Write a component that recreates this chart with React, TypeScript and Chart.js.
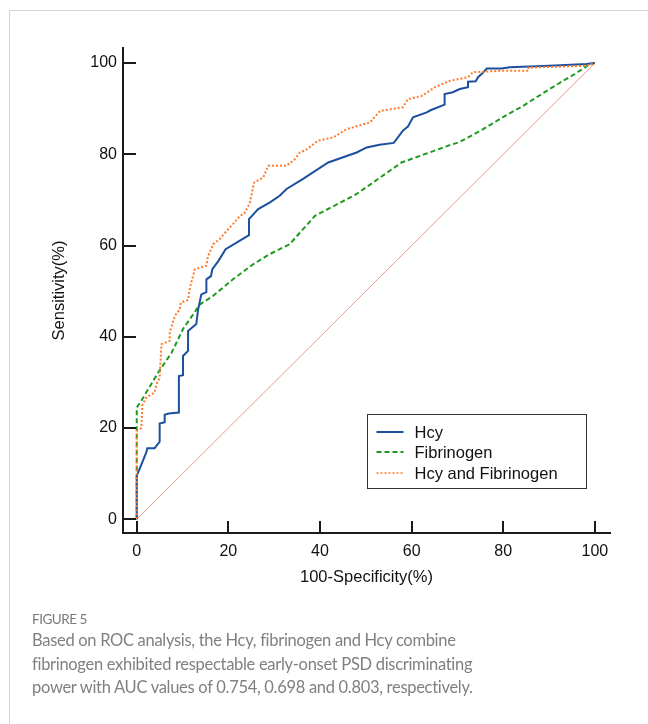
import { useEffect, useRef } from "react";
import { Chart, registerables } from "chart.js";

Chart.register(...registerables);

// ---------- data ----------
const seriesNames = ["Hcy", "Fibrinogen", "Hcy and Fibrinogen"];

const hcyX = [0, 0, 1, 2.1, 2.3, 3.9, 5, 5, 6.1, 6.1, 7, 9.2, 9.2, 10.1, 10.1, 11.2, 11.2, 13, 13.4, 14.1, 15.2, 15.2, 16.2, 16.5, 17.8, 19.4, 24.5, 24.5, 26.5, 29, 31.2, 32.7, 36.3, 41.8, 48, 50.2, 53, 56.1, 58.1, 59.2, 60.3, 63.3, 64, 67.2, 67.2, 69, 70.5, 72.3, 72.3, 74, 74.5, 75.5, 76.4, 79.6, 81.4, 90, 98.2, 100];
const hcyY = [0, 9.5, 12, 14.7, 15.6, 15.6, 17, 21, 21.3, 22.9, 23.2, 23.4, 31.4, 31.6, 35.8, 36.9, 41.3, 42.8, 46, 49.3, 49.8, 52.6, 53.3, 54.8, 56.6, 59.2, 62.3, 65.8, 68, 69.4, 70.9, 72.4, 74.6, 78.2, 80.4, 81.5, 82.1, 82.5, 85.2, 86.1, 88.1, 89.2, 89.6, 90.9, 93.2, 93.6, 94.3, 94.7, 95.9, 96, 96.9, 97.8, 98.8, 98.8, 99.1, 99.4, 99.8, 100];

const fibX = [0, 0, 1, 4.7, 7.6, 10.1, 13.8, 16.7, 21, 25.4, 29, 33.4, 36.3, 38.9, 48, 57.8, 68.3, 70.5, 75.6, 80.7, 84.3, 90.9, 95.6, 97.5, 98.9, 100];
const fibY = [0, 24.5, 26, 32.2, 36.5, 41.7, 47.1, 49, 52.6, 55.9, 58.1, 60.3, 63.6, 66.5, 71.3, 78.2, 82, 82.7, 85.5, 88.6, 90.6, 94.8, 97.6, 98.8, 99.8, 100];

const comboX = [0, 0, 1, 1.2, 1.2, 2.1, 3.9, 4.3, 5, 5.4, 7.2, 7.2, 8.3, 9.4, 9.6, 11.2, 11.6, 12.7, 15.2, 15.5, 16.7, 18.1, 19.6, 21, 22.5, 23.5, 24.7, 25.6, 27.6, 28.7, 32.7, 34.5, 35.6, 37, 39.6, 42.9, 45.8, 50.9, 53.1, 58.1, 59.2, 62.2, 65.1, 68.3, 72.3, 73.4, 79.6, 85.5, 85.5, 98.2, 100];
const comboY = [0, 19.4, 20, 24.1, 25, 26.7, 27.8, 29.6, 31, 38.4, 39.1, 41, 44.6, 46, 47.5, 48.1, 50.8, 54.8, 55.6, 57.5, 60.3, 61.4, 63.2, 64.7, 66.5, 67, 69.4, 73.8, 74.9, 77.5, 77.5, 78.9, 80.4, 81, 83, 83.7, 85.5, 87, 89.5, 90.3, 92.1, 92.8, 94.7, 96.1, 96.9, 98, 98.3, 98.3, 99, 99.4, 100];

const refX = [0, 100];
const refY = [0, 100];

const axisTicks = [0, 20, 40, 60, 80, 100];
const xTitle = "100-Specificity(%)";
const yTitle = "Sensitivity(%)";

const captionLabel = "FIGURE 5";
const captionLines = [
  "Based on ROC analysis, the Hcy, fibrinogen and Hcy combine",
  "fibrinogen exhibited respectable early-onset PSD discriminating",
  "power with AUC values of 0.754, 0.698 and 0.803, respectively.",
];

// ---------- styles ----------
const FONT = "'Liberation Sans', Arial, sans-serif";
const AXIS_COLOR = "#1a1a1a";
const colors = ["#1d4f9f", "#1f9a1f", "#ff7a2a"];
const dashes: number[][] = [[], [5, 3], [2, 2]];
const REF_COLOR = "rgba(232,120,110,0.85)";

const zip = (xs: number[], ys: number[]) => xs.map((x, i) => ({ x, y: ys[i] }));

const fixedTicks = (s: any) => {
  s.ticks = axisTicks.map((v) => ({ value: v }));
};

const innerTicksPlugin = {
  id: "innerTicks",
  afterDraw(chart: any) {
    const { ctx, chartArea, scales } = chart;
    ctx.save();
    ctx.strokeStyle = AXIS_COLOR;
    ctx.lineWidth = 2;
    ctx.beginPath();
    for (const v of axisTicks) {
      const x = Math.round(scales.x.getPixelForValue(v));
      ctx.moveTo(x, chartArea.bottom);
      ctx.lineTo(x, chartArea.bottom - 12);
      const y = Math.round(scales.y.getPixelForValue(v));
      ctx.moveTo(chartArea.left, y);
      ctx.lineTo(chartArea.left + 13, y);
    }
    ctx.stroke();
    ctx.restore();
  },
};

const boxLegendPlugin = {
  id: "boxLegend",
  afterDraw(chart: any) {
    const { ctx, chartArea } = chart;
    const x0 = chartArea.left + 244.5;
    const y0 = chartArea.top + 366.5;
    const w = 219;
    const h = 74;
    ctx.save();
    ctx.fillStyle = "#ffffff";
    ctx.fillRect(x0, y0, w, h);
    ctx.strokeStyle = "#333333";
    ctx.lineWidth = 1;
    ctx.strokeRect(x0, y0, w, h);
    ctx.font = `16.5px ${FONT}`;
    ctx.textBaseline = "middle";
    ctx.textAlign = "left";
    seriesNames.forEach((name, i) => {
      const cy = Math.round(y0 + 17 + i * 20.8);
      ctx.beginPath();
      ctx.strokeStyle = colors[i];
      ctx.lineWidth = i === 2 ? 1.5 : 2;
      ctx.setLineDash(dashes[i]);
      ctx.moveTo(x0 + 9, cy);
      ctx.lineTo(x0 + 36, cy);
      ctx.stroke();
      ctx.setLineDash([]);
      ctx.fillStyle = "#111111";
      ctx.fillText(name, x0 + 47, cy + 1);
    });
    ctx.restore();
  },
};

function RocChart() {
  const ref = useRef<HTMLCanvasElement | null>(null);
  useEffect(() => {
    if (!ref.current) return;
    const seriesX = [hcyX, fibX, comboX];
    const seriesY = [hcyY, fibY, comboY];
    const orders = [1, 2, 0];
    const chart = new Chart(ref.current, {
      type: "line",
      data: {
        datasets: [
          ...seriesNames.map((name, i) => ({
            label: name,
            data: zip(seriesX[i], seriesY[i]),
            borderColor: colors[i],
            backgroundColor: colors[i],
            borderWidth: 2,
            borderDash: dashes[i],
            pointRadius: 0,
            tension: 0,
            fill: false,
            order: orders[i],
          })),
          {
            label: "reference",
            data: zip(refX, refY),
            borderColor: REF_COLOR,
            borderWidth: 0.9,
            pointRadius: 0,
            tension: 0,
            fill: false,
            order: 3,
          },
        ],
      },
      options: {
        animation: false,
        responsive: false,
        events: [],
        layout: { padding: { top: 40, right: 30, left: 0, bottom: 0 } },
        plugins: {
          legend: { display: false },
          tooltip: { enabled: false },
        },
        scales: {
          x: {
            type: "linear",
            min: -3,
            max: 103.3,
            afterBuildTicks: fixedTicks,
            afterFit: (s: any) => {
              s.height = 75;
            },
            grid: { display: false, drawTicks: false },
            border: { display: true, color: AXIS_COLOR, width: 2 },
            ticks: {
              color: "#111111",
              font: { family: FONT, size: 16 },
              padding: 9,
              maxRotation: 0,
              autoSkip: false,
            },
            title: {
              display: true,
              text: xTitle,
              color: "#111111",
              font: { family: FONT, size: 16.5 },
              padding: { top: 0, bottom: 21 },
            },
          },
          y: {
            type: "linear",
            min: -3,
            max: 103.3,
            afterBuildTicks: fixedTicks,
            afterFit: (s: any) => {
              s.width = 115;
            },
            grid: { display: false, drawTicks: false },
            border: { display: true, color: AXIS_COLOR, width: 2 },
            ticks: {
              color: "#111111",
              font: { family: FONT, size: 16 },
              padding: 6,
              autoSkip: false,
            },
            title: {
              display: true,
              text: yTitle,
              color: "#111111",
              font: { family: FONT, size: 16.5 },
              padding: { top: 42, bottom: 0 },
            },
          },
        },
      },
      plugins: [innerTicksPlugin, boxLegendPlugin],
    } as any);
    return () => chart.destroy();
  }, []);
  return <canvas ref={ref} width={632} height={600} style={{ display: "block", width: 632, height: 600 }} />;
}

export default function App() {
  return (
    <div style={{ position: "relative", width: 640, height: 700 }}>
      <div
        style={{
          position: "fixed",
          left: 9,
          top: 10,
          width: 700,
          height: 800,
          borderLeft: "1px solid #d4d4d4",
          borderTop: "1px solid #d4d4d4",
          pointerEvents: "none",
        }}
      />
      <RocChart />
      <div
        style={{
          position: "absolute",
          left: 24,
          top: 602,
          fontFamily: "Lato, sans-serif",
          fontSize: 13.5,
          fontWeight: 400,
          letterSpacing: -0.5,
          color: "#7a7a7a",
          lineHeight: "18px",
          whiteSpace: "nowrap",
        }}
      >
        {captionLabel}
      </div>
      <div
        style={{
          position: "absolute",
          left: 24,
          top: 621,
          fontFamily: "Lato, sans-serif",
          fontSize: 16.5,
          fontWeight: 400,
          letterSpacing: -0.3,
          color: "#808080",
          lineHeight: "23.5px",
          whiteSpace: "nowrap",
        }}
      >
        {captionLines.map((l, i) => (
          <div key={i}>{l}</div>
        ))}
      </div>
    </div>
  );
}
